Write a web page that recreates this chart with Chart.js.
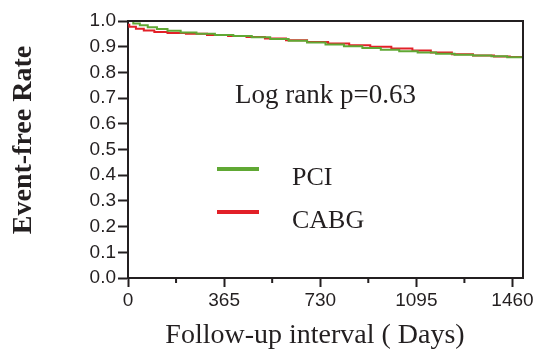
<!DOCTYPE html>
<html>
<head>
<meta charset="utf-8">
<script src="https://cdn.jsdelivr.net/npm/chart.js@4.4.1/dist/chart.umd.min.js"></script>
<style>
  html, body { margin: 0; padding: 0; background: #fff; }
  #wrap { width: 534px; height: 349px; position: relative; }
</style>
</head>
<body>
<div id="wrap"><canvas id="kmChart"></canvas></div>
<script>
// Kaplan-Meier event-free rate
let pciDays = [0, 20, 45, 75, 110, 150, 200, 260, 330, 400, 470, 540, 610, 680, 750, 820, 890, 960, 1030, 1100, 1170, 1240, 1310, 1380, 1440, 1500];
let pciRate = [1.0, 0.99, 0.983, 0.976, 0.969, 0.962, 0.955, 0.95, 0.946, 0.942, 0.937, 0.93, 0.923, 0.916, 0.909, 0.902, 0.895, 0.888, 0.882, 0.877, 0.873, 0.869, 0.866, 0.863, 0.859, 0.855];

let cabgDays = [0, 5, 30, 60, 100, 150, 220, 300, 380, 450, 520, 600, 680, 760, 840, 920, 1000, 1080, 1150, 1230, 1310, 1390, 1450, 1500];
let cabgRate = [0.985, 0.978, 0.97, 0.963, 0.957, 0.953, 0.95, 0.946, 0.942, 0.938, 0.932, 0.925, 0.918, 0.912, 0.906, 0.9, 0.893, 0.885, 0.877, 0.871, 0.866, 0.862, 0.86, 0.858];

let xTicks = [0, 365, 730, 1095, 1460];
let xMinorTicks = [182.5, 547.5, 912.5, 1277.5];
let yTicks = [0, 0.1, 0.2, 0.3, 0.4, 0.5, 0.6, 0.7, 0.8, 0.9, 1.0];

let seriesNames = ["PCI", "CABG"];
let annotation = "Log rank p=0.63";
let xTitle = "Follow-up interval ( Days)";
let yTitle = "Event-free Rate";

const ink = "#231f20";
const green = "rgb(96,168,52)";
const red = "rgb(226,32,40)";

function toPoints(days, vals) {
  return days.map((d, i) => ({ x: d, y: vals[i] }));
}

// frame, minor ticks, titles, legend and p-value
const extras = {
  id: "extras",
  afterDraw(chart) {
    const c = chart.ctx;
    const a = chart.chartArea;
    const xs = chart.scales.x;
    c.save();
    c.strokeStyle = ink;
    c.lineWidth = 2;
    c.beginPath();
    c.moveTo(a.left, a.top);
    c.lineTo(a.right, a.top);
    c.lineTo(a.right, a.bottom);
    c.stroke();

    c.beginPath();
    xMinorTicks.forEach(v => {
      const px = xs.getPixelForValue(v);
      c.moveTo(px, a.bottom);
      c.lineTo(px, a.bottom + 5);
    });
    c.stroke();

    c.fillStyle = ink;
    c.font = "bold 28px 'Liberation Serif'";
    c.textAlign = "center";
    c.textBaseline = "middle";
    c.save();
    c.translate(24, 140);
    c.rotate(-Math.PI / 2);
    c.fillText(yTitle, 0, 0);
    c.restore();

    c.font = "28px 'Liberation Serif'";
    c.textBaseline = "alphabetic";
    c.fillText(xTitle, 315, 343);

    c.textAlign = "left";
    c.font = "27px 'Liberation Serif'";
    c.fillText(annotation, 235, 103);

    c.font = "26px 'Liberation Serif'";
    chart.data.datasets.forEach((ds, i) => {
      const ly = 169 + i * 43;
      c.strokeStyle = ds.borderColor;
      c.lineWidth = 4;
      c.beginPath();
      c.moveTo(217, ly);
      c.lineTo(259, ly);
      c.stroke();
      c.fillStyle = ink;
      c.fillText(ds.label, 292, ly + 16);
    });
    c.restore();
  }
};

let ctx = document.getElementById("kmChart").getContext("2d");
let myChart = new Chart(ctx, {
  type: "line",
  data: {
    datasets: [
      {
        label: seriesNames[0],
        data: toPoints(pciDays, pciRate),
        borderColor: green,
        borderWidth: 2,
        stepped: true,
        pointRadius: 0,
        fill: false,
      },
      {
        label: seriesNames[1],
        data: toPoints(cabgDays, cabgRate),
        borderColor: red,
        borderWidth: 2,
        stepped: true,
        pointRadius: 0,
        fill: false,
      },
    ],
  },
  options: {
    responsive: true,
    maintainAspectRatio: false,
    animation: false,
    devicePixelRatio: 1,
    layout: { padding: { top: 21, right: 11, left: 0, bottom: 0 } },
    plugins: { legend: { display: false }, tooltip: { enabled: false } },
    scales: {
      x: {
        type: "linear",
        min: 0,
        max: 1500,
        afterBuildTicks: s => { s.ticks = xTicks.map(v => ({ value: v })); },
        afterFit: s => { s.height = 71; s.paddingLeft = 0; s.paddingRight = 0; },
        ticks: {
          autoSkip: false,
          maxRotation: 0,
          padding: 2,
          color: ink,
          font: { family: "'Liberation Sans'", size: 19 },
          callback: v => String(v),
        },
        grid: { drawOnChartArea: false, tickLength: 9, tickWidth: 2, tickColor: ink },
        border: { display: true, color: ink, width: 2 },
      },
      y: {
        min: 0,
        max: 1,
        afterBuildTicks: s => { s.ticks = yTicks.map(v => ({ value: v })); },
        afterFit: s => { s.width = 128; },
        ticks: {
          autoSkip: false,
          padding: 2,
          color: ink,
          font: { family: "'Liberation Sans'", size: 19 },
          callback: v => v.toFixed(1),
        },
        grid: { drawOnChartArea: false, tickLength: 10, tickWidth: 2, tickColor: ink },
        border: { display: true, color: ink, width: 2 },
      },
    },
  },
  plugins: [extras],
});
</script>
</body>
</html>
